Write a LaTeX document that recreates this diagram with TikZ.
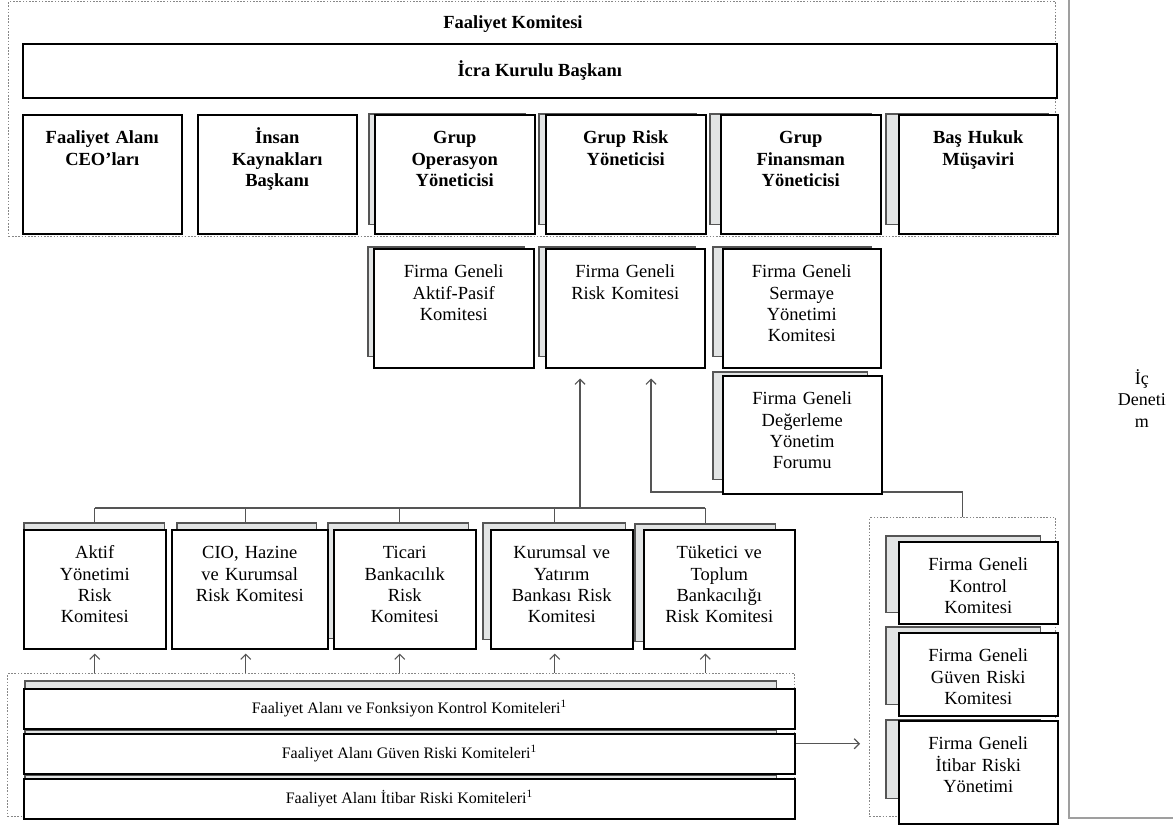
\documentclass[tikz,border=0pt]{standalone}
\usepackage{fontspec}
\setmainfont{Liberation Serif}
\usepackage{tikz}
\usetikzlibrary{backgrounds,arrows.meta}
\definecolor{cardgray}{RGB}{226,228,228}
\definecolor{edgegray}{RGB}{85,85,85}
\definecolor{dotgray}{RGB}{135,135,135}

\begin{document}
\begin{tikzpicture}[x=1pt,y=-1pt,>={Straight Barb[length=5pt,width=10pt]},
  box/.style={draw,line width=1.5pt,fill=white,anchor=north west,inner sep=0pt,
    align=center,text height=29pt,font=\fontsize{18.5}{21.3}\selectfont},
  head box/.style={box,font=\fontsize{18.5}{21.5}\selectfont\bfseries},
  dims/.style 2 args={text width=#1pt,text depth=#2pt},
  bar/.style={draw,line width=1.5pt,fill=white,anchor=north west,inner sep=0pt,
    minimum width=771pt,minimum height=40pt,font=\fontsize{16}{18}\selectfont},
  group/.style={draw=dotgray,line width=1.4pt,dash pattern=on 1.6pt off 1.6pt,
    anchor=north west,inner sep=0pt},
  conn/.style={draw=edgegray,line width=1.2pt},
  conn arrow/.style={conn,->},
  card/.style={fill=cardgray,draw=edgegray,line width=1.1pt}]

  \clip (0,0) rectangle (1173,827);

  % gruplar
  \node[group,minimum width=1047pt,minimum height=235pt] (komite) at (8,1) {};
  \node[group,minimum width=787pt,minimum height=143pt] (bgrp) at (7,673) {};
  \node[group,minimum width=186pt,minimum height=299pt] (rgrp) at (869,517) {};
  \node[draw=gray!75,line width=1.8pt,anchor=north west,inner sep=0pt,
    minimum width=146pt,minimum height=839pt,align=center,
    font=\fontsize{18}{21.3}\selectfont] (icden) at (1068,-22) {İç\\Deneti\\m};

  \node[font=\fontsize{18.5}{21.5}\selectfont\bfseries] (fk) at (513,24) {Faaliyet Komitesi};
  \node[draw,line width=1.5pt,fill=white,anchor=north west,inner sep=0pt,
    minimum width=1034pt,minimum height=54pt,
    font=\fontsize{18.5}{21.5}\selectfont\bfseries] (icra) at (22,43) {İcra Kurulu Başkanı};

  \node[head box,dims={159}{90}] (ceo) at (22,114) {Faaliyet Alanı\\CEO’ları};
  \node[head box,dims={159}{90}] (ik) at (197,114) {İnsan\\Kaynakları\\Başkanı};
  \node[head box,dims={160}{90}] (gop) at (374,114) {Grup\\Operasyon\\Yöneticisi};
  \node[head box,dims={160}{90}] (grisk) at (545,114) {Grup Risk\\Yöneticisi};
  \node[head box,dims={160}{90}] (gfin) at (720,114) {Grup\\Finansman\\Yöneticisi};
  \node[head box,dims={159}{90}] (hukuk) at (898,114) {Baş Hukuk\\Müşaviri};

  \node[box,dims={160}{90}] (apas) at (373,248) {Firma Geneli\\Aktif-Pasif\\Komitesi};
  \node[box,dims={159}{90}] (frisk) at (545,248) {Firma Geneli\\Risk Komitesi};
  \node[box,dims={158}{90}] (serm) at (722,248) {Firma Geneli\\Sermaye\\Yönetimi\\Komitesi};
  \node[box,dims={159}{89}] (forum) at (722,375) {Firma Geneli\\Değerleme\\Yönetim\\Forumu};

  \node[box,dims={142}{90}] (aktif) at (23,529) {Aktif\\Yönetimi\\Risk\\Komitesi};
  \node[box,dims={156}{90}] (cio) at (171,529) {CIO, Hazine\\ve Kurumsal\\Risk Komitesi};
  \node[box,dims={142}{90}] (ticari) at (333,529) {Ticari\\Bankacılık\\Risk\\Komitesi};
  \node[box,dims={142}{90}] (kurumsal) at (490,529) {Kurumsal ve\\Yatırım\\Bankası Risk\\Komitesi};
  \node[box,dims={151}{90}] (tuketici) at (643,529) {Tüketici ve\\Toplum\\Bankacılığı\\Risk Komitesi};

  \node[bar] (bar1) at (23,688) {Faaliyet Alanı ve Fonksiyon Kontrol Komiteleri\textsuperscript{1}};
  \node[bar] (bar2) at (23,733) {Faaliyet Alanı Güven Riski Komiteleri\textsuperscript{1}};
  \node[bar] (bar3) at (23,778) {Faaliyet Alanı İtibar Riski Komiteleri\textsuperscript{1}};

  \node[box,dims={159}{53}] (kontrol) at (898,541) {Firma Geneli\\Kontrol\\Komitesi};
  \node[box,dims={159}{54}] (guven) at (898,632) {Firma Geneli\\Güven Riski\\Komitesi};
  \node[box,dims={159}{74}] (itibar) at (898,720) {Firma Geneli\\İtibar Riski\\Yönetimi};

  \begin{pgfonlayer}{background}
  \coordinate (bus) at (580,508);
  \coordinate (bend) at (651,492);
  \foreach \n/\d in {aktif/0,cio/-4,ticari/-5,kurumsal/-7,tuketici/-14}{
    \coordinate (\n-top) at ([xshift=\d pt]\n.north);
    \coordinate (\n-bot) at ([xshift=\d pt]\n.south);
    \draw[conn] (\n-top |- bus) -- (\n-top);
    \draw[conn arrow,shorten >=4pt] (\n-bot |- bgrp.north) -- (\n-bot);
  }
  \draw[conn] (aktif-top |- bus) -- (tuketici-top |- bus);
  \draw[conn arrow,shorten >=10pt] (bus) -- (bus |- frisk.south);
  \draw[conn arrow,shorten >=10pt] (rgrp.north) |- (bend) -- (bend |- frisk.south);
  \coordinate (out) at ([yshift=10pt]bar2.east);
  \draw[conn arrow,shorten >=9pt] (out) -- (out -| rgrp.west);

  % arka kartlar
  \foreach \n/\a/\b/\c/\e in {gop/-5/0/-10/-10,grisk/-6/0/-10/-10,gfin/-10/0/-10/-10,
      hukuk/-12/0/-10/-10,apas/-5/-1/-10/-12,frisk/-6/-1/-10/-12,serm/-9/-1/-10/-12,
      forum/-9/-3/-15/-15,aktif/1/-6/-2/-11,cio/6/-6/-12/-11,ticari/-5/-6/-8/-11,
      kurumsal/-7/-6/-8/-10,tuketici/-8/-5/-20/-8,kontrol/-12/-5/-18/-12,
      guven/-12/-5/-18/-12,itibar/-12/0/-18/-26,bar1/2/-7/-19/-10,
      bar2/2/-3/-19/-10,bar3/2/-3/-19/-10}
    \draw[card] ([shift={(\a,\b)}]\n.north west) rectangle ([shift={(\c,\e)}]\n.south east);
  \end{pgfonlayer}
\end{tikzpicture}
\end{document}
